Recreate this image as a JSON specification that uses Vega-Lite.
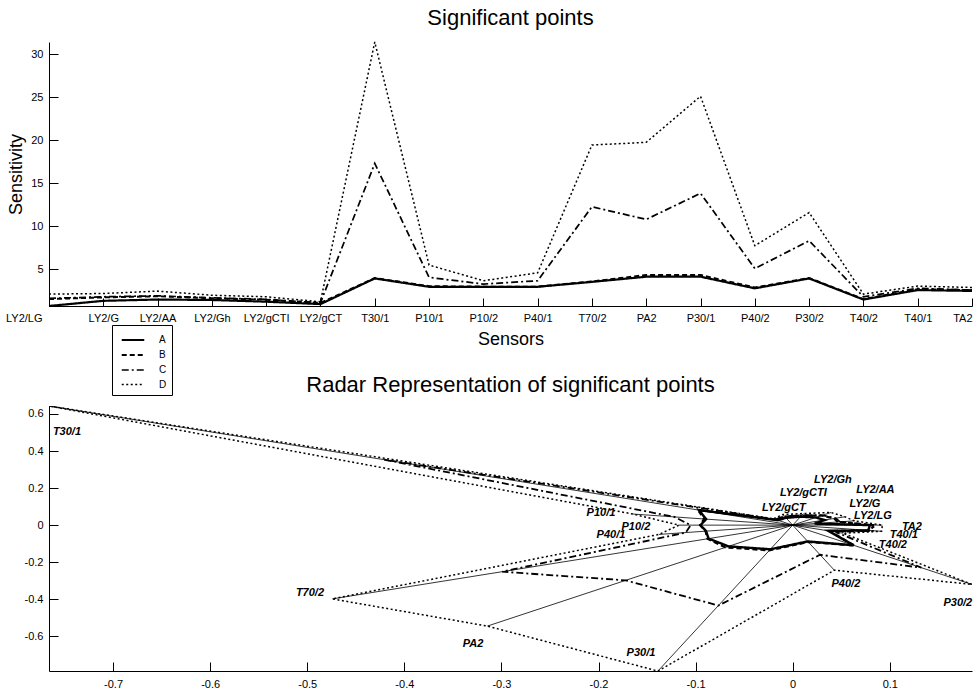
{
  "$schema": "https://vega.github.io/schema/vega-lite/v6.json",
  "background": "white",
  "padding": {"left": 5, "top": 7, "right": 0, "bottom": 0},
  "bounds": "flush",
  "spacing": 100,
  "resolve": {"scale": {"strokeDash": "independent", "strokeWidth": "independent"}},
  "datasets": {
    "sens": [
      {"sensor": "LY2/LG", "k": 0, "series": "A", "value": 0.75},
      {"sensor": "LY2/G", "k": 1, "series": "A", "value": 1.35},
      {"sensor": "LY2/AA", "k": 2, "series": "A", "value": 1.5},
      {"sensor": "LY2/Gh", "k": 3, "series": "A", "value": 1.45},
      {"sensor": "LY2/gCTI", "k": 4, "series": "A", "value": 1.25},
      {"sensor": "LY2/gCT", "k": 5, "series": "A", "value": 0.97},
      {"sensor": "T30/1", "k": 6, "series": "A", "value": 3.95},
      {"sensor": "P10/1", "k": 7, "series": "A", "value": 2.98},
      {"sensor": "P10/2", "k": 8, "series": "A", "value": 2.98},
      {"sensor": "P40/1", "k": 9, "series": "A", "value": 2.98},
      {"sensor": "T70/2", "k": 10, "series": "A", "value": 3.55},
      {"sensor": "PA2", "k": 11, "series": "A", "value": 4.15},
      {"sensor": "P30/1", "k": 12, "series": "A", "value": 4.15},
      {"sensor": "P40/2", "k": 13, "series": "A", "value": 2.8},
      {"sensor": "P30/2", "k": 14, "series": "A", "value": 3.95},
      {"sensor": "T40/2", "k": 15, "series": "A", "value": 1.5},
      {"sensor": "T40/1", "k": 16, "series": "A", "value": 2.6},
      {"sensor": "TA2", "k": 17, "series": "A", "value": 2.5},
      {"sensor": "LY2/LG", "k": 0, "series": "B", "value": 1.55},
      {"sensor": "LY2/G", "k": 1, "series": "B", "value": 1.75},
      {"sensor": "LY2/AA", "k": 2, "series": "B", "value": 1.88},
      {"sensor": "LY2/Gh", "k": 3, "series": "B", "value": 1.65},
      {"sensor": "LY2/gCTI", "k": 4, "series": "B", "value": 1.48},
      {"sensor": "LY2/gCT", "k": 5, "series": "B", "value": 1.1},
      {"sensor": "T30/1", "k": 6, "series": "B", "value": 4.0},
      {"sensor": "P10/1", "k": 7, "series": "B", "value": 3.05},
      {"sensor": "P10/2", "k": 8, "series": "B", "value": 3.0},
      {"sensor": "P40/1", "k": 9, "series": "B", "value": 3.0},
      {"sensor": "T70/2", "k": 10, "series": "B", "value": 3.6},
      {"sensor": "PA2", "k": 11, "series": "B", "value": 4.35},
      {"sensor": "P30/1", "k": 12, "series": "B", "value": 4.35},
      {"sensor": "P40/2", "k": 13, "series": "B", "value": 2.9},
      {"sensor": "P30/2", "k": 14, "series": "B", "value": 4.0},
      {"sensor": "T40/2", "k": 15, "series": "B", "value": 1.55},
      {"sensor": "T40/1", "k": 16, "series": "B", "value": 2.7},
      {"sensor": "TA2", "k": 17, "series": "B", "value": 2.6},
      {"sensor": "LY2/LG", "k": 0, "series": "C", "value": 1.63},
      {"sensor": "LY2/G", "k": 1, "series": "C", "value": 1.82},
      {"sensor": "LY2/AA", "k": 2, "series": "C", "value": 1.93},
      {"sensor": "LY2/Gh", "k": 3, "series": "C", "value": 1.7},
      {"sensor": "LY2/gCTI", "k": 4, "series": "C", "value": 1.52},
      {"sensor": "LY2/gCT", "k": 5, "series": "C", "value": 1.12},
      {"sensor": "T30/1", "k": 6, "series": "C", "value": 17.3},
      {"sensor": "P10/1", "k": 7, "series": "C", "value": 4.07},
      {"sensor": "P10/2", "k": 8, "series": "C", "value": 3.3},
      {"sensor": "P40/1", "k": 9, "series": "C", "value": 3.68},
      {"sensor": "T70/2", "k": 10, "series": "C", "value": 12.27},
      {"sensor": "PA2", "k": 11, "series": "C", "value": 10.8},
      {"sensor": "P30/1", "k": 12, "series": "C", "value": 13.83},
      {"sensor": "P40/2", "k": 13, "series": "C", "value": 5.1},
      {"sensor": "P30/2", "k": 14, "series": "C", "value": 8.32},
      {"sensor": "T40/2", "k": 15, "series": "C", "value": 1.82},
      {"sensor": "T40/1", "k": 16, "series": "C", "value": 2.8},
      {"sensor": "TA2", "k": 17, "series": "C", "value": 2.6},
      {"sensor": "LY2/LG", "k": 0, "series": "D", "value": 2.13},
      {"sensor": "LY2/G", "k": 1, "series": "D", "value": 2.2},
      {"sensor": "LY2/AA", "k": 2, "series": "D", "value": 2.48},
      {"sensor": "LY2/Gh", "k": 3, "series": "D", "value": 2.0},
      {"sensor": "LY2/gCTI", "k": 4, "series": "D", "value": 1.82},
      {"sensor": "LY2/gCT", "k": 5, "series": "D", "value": 1.24},
      {"sensor": "T30/1", "k": 6, "series": "D", "value": 31.4},
      {"sensor": "P10/1", "k": 7, "series": "D", "value": 5.5},
      {"sensor": "P10/2", "k": 8, "series": "D", "value": 3.68},
      {"sensor": "P40/1", "k": 9, "series": "D", "value": 4.6},
      {"sensor": "T70/2", "k": 10, "series": "D", "value": 19.44},
      {"sensor": "PA2", "k": 11, "series": "D", "value": 19.75},
      {"sensor": "P30/1", "k": 12, "series": "D", "value": 25.1},
      {"sensor": "P40/2", "k": 13, "series": "D", "value": 7.75},
      {"sensor": "P30/2", "k": 14, "series": "D", "value": 11.6},
      {"sensor": "T40/2", "k": 15, "series": "D", "value": 2.13},
      {"sensor": "T40/1", "k": 16, "series": "D", "value": 3.06},
      {"sensor": "TA2", "k": 17, "series": "D", "value": 2.9}
    ],
    "radar": [
      {"series": "A", "k": 0, "x": 0.0225, "y": 0.0082},
      {"series": "A", "k": 1, "x": 0.0329, "y": 0.0276},
      {"series": "A", "k": 2, "x": 0.0239, "y": 0.0414},
      {"series": "A", "k": 3, "x": 0.008, "y": 0.0455},
      {"series": "A", "k": 4, "x": -0.0069, "y": 0.0392},
      {"series": "A", "k": 5, "x": -0.0154, "y": 0.0268},
      {"series": "A", "k": 6, "x": -0.0964, "y": 0.0809},
      {"series": "A", "k": 7, "x": -0.0892, "y": 0.0325},
      {"series": "A", "k": 8, "x": -0.0949, "y": 0},
      {"series": "A", "k": 9, "x": -0.0892, "y": -0.0325},
      {"series": "A", "k": 10, "x": -0.0866, "y": -0.0727},
      {"series": "A", "k": 11, "x": -0.0661, "y": -0.1145},
      {"series": "A", "k": 12, "x": -0.023, "y": -0.1302},
      {"series": "A", "k": 13, "x": 0.0155, "y": -0.0878},
      {"series": "A", "k": 14, "x": 0.0629, "y": -0.1089},
      {"series": "A", "k": 15, "x": 0.0366, "y": -0.0307},
      {"series": "A", "k": 16, "x": 0.0778, "y": -0.0283},
      {"series": "A", "k": 17, "x": 0.0796, "y": 0},
      {"series": "A", "k": 18, "x": 0.0225, "y": 0.0082},
      {"series": "B", "k": 0, "x": 0.0464, "y": 0.0169},
      {"series": "B", "k": 1, "x": 0.0427, "y": 0.0358},
      {"series": "B", "k": 2, "x": 0.0299, "y": 0.0519},
      {"series": "B", "k": 3, "x": 0.0091, "y": 0.0518},
      {"series": "B", "k": 4, "x": -0.0082, "y": 0.0464},
      {"series": "B", "k": 5, "x": -0.0175, "y": 0.0303},
      {"series": "B", "k": 6, "x": -0.0976, "y": 0.0819},
      {"series": "B", "k": 7, "x": -0.0913, "y": 0.0332},
      {"series": "B", "k": 8, "x": -0.0955, "y": 0},
      {"series": "B", "k": 9, "x": -0.0898, "y": -0.0327},
      {"series": "B", "k": 10, "x": -0.0878, "y": -0.0737},
      {"series": "B", "k": 11, "x": -0.0693, "y": -0.12},
      {"series": "B", "k": 12, "x": -0.0241, "y": -0.1364},
      {"series": "B", "k": 13, "x": 0.016, "y": -0.091},
      {"series": "B", "k": 14, "x": 0.0637, "y": -0.1103},
      {"series": "B", "k": 15, "x": 0.0378, "y": -0.0317},
      {"series": "B", "k": 16, "x": 0.0808, "y": -0.0294},
      {"series": "B", "k": 17, "x": 0.0828, "y": 0},
      {"series": "B", "k": 18, "x": 0.0464, "y": 0.0169},
      {"series": "C", "k": 0, "x": 0.0488, "y": 0.0178},
      {"series": "C", "k": 1, "x": 0.0444, "y": 0.0373},
      {"series": "C", "k": 2, "x": 0.0307, "y": 0.0532},
      {"series": "C", "k": 3, "x": 0.0094, "y": 0.0533},
      {"series": "C", "k": 4, "x": -0.0084, "y": 0.0477},
      {"series": "C", "k": 5, "x": -0.0178, "y": 0.0309},
      {"series": "C", "k": 6, "x": -0.422, "y": 0.3542},
      {"series": "C", "k": 7, "x": -0.1218, "y": 0.0443},
      {"series": "C", "k": 8, "x": -0.1051, "y": 0},
      {"series": "C", "k": 9, "x": -0.1101, "y": -0.0401},
      {"series": "C", "k": 10, "x": -0.2993, "y": -0.2512},
      {"series": "C", "k": 11, "x": -0.172, "y": -0.2979},
      {"series": "C", "k": 12, "x": -0.0765, "y": -0.4338},
      {"series": "C", "k": 13, "x": 0.0282, "y": -0.16},
      {"series": "C", "k": 14, "x": 0.1325, "y": -0.2295},
      {"series": "C", "k": 15, "x": 0.0444, "y": -0.0373},
      {"series": "C", "k": 16, "x": 0.0838, "y": -0.0305},
      {"series": "C", "k": 17, "x": 0.0828, "y": 0},
      {"series": "C", "k": 18, "x": 0.0488, "y": 0.0178},
      {"series": "D", "k": 0, "x": 0.0637, "y": 0.0232},
      {"series": "D", "k": 1, "x": 0.0537, "y": 0.045},
      {"series": "D", "k": 2, "x": 0.0395, "y": 0.0684},
      {"series": "D", "k": 3, "x": 0.0111, "y": 0.0627},
      {"series": "D", "k": 4, "x": -0.0101, "y": 0.0571},
      {"series": "D", "k": 5, "x": -0.0198, "y": 0.0342},
      {"series": "D", "k": 6, "x": -0.766, "y": 0.6428},
      {"series": "D", "k": 7, "x": -0.1646, "y": 0.0599},
      {"series": "D", "k": 8, "x": -0.1172, "y": 0},
      {"series": "D", "k": 9, "x": -0.1377, "y": -0.0501},
      {"series": "D", "k": 10, "x": -0.4742, "y": -0.398},
      {"series": "D", "k": 11, "x": -0.3145, "y": -0.5447},
      {"series": "D", "k": 12, "x": -0.1388, "y": -0.7872},
      {"series": "D", "k": 13, "x": 0.0429, "y": -0.2431},
      {"series": "D", "k": 14, "x": 0.1847, "y": -0.3199},
      {"series": "D", "k": 15, "x": 0.052, "y": -0.0436},
      {"series": "D", "k": 16, "x": 0.0916, "y": -0.0333},
      {"series": "D", "k": 17, "x": 0.0924, "y": 0},
      {"series": "D", "k": 18, "x": 0.0637, "y": 0.0232}
    ],
    "labels": [
      {"label": "T30/1", "x": -0.7475, "y": 0.502},
      {"label": "P10/1", "x": -0.1975, "y": 0.0648},
      {"label": "P10/2", "x": -0.1615, "y": -0.0108},
      {"label": "P40/1", "x": -0.1872, "y": -0.054},
      {"label": "T70/2", "x": -0.4972, "y": -0.367},
      {"label": "PA2", "x": -0.3293, "y": -0.642},
      {"label": "P30/1", "x": -0.1563, "y": -0.691},
      {"label": "P40/2", "x": 0.0548, "y": -0.318},
      {"label": "P30/2", "x": 0.1701, "y": -0.421},
      {"label": "T40/2", "x": 0.1032, "y": -0.108},
      {"label": "T40/1", "x": 0.1145, "y": -0.054},
      {"label": "TA2", "x": 0.1228, "y": -0.0108},
      {"label": "LY2/LG", "x": 0.0826, "y": 0.0486},
      {"label": "LY2/G", "x": 0.0744, "y": 0.1133},
      {"label": "LY2/AA", "x": 0.0852, "y": 0.1889},
      {"label": "LY2/Gh", "x": 0.0414, "y": 0.2428},
      {"label": "LY2/gCTI", "x": 0.011, "y": 0.1727},
      {"label": "LY2/gCT", "x": -0.0091, "y": 0.0917}
    ]
  },
  "vconcat": [
    {
      "title": {"text": "Significant points"},
      "width": 923,
      "height": 264,
      "data": {"name": "sens"},
      "mark": {"type": "line", "color": "black"},
      "encoding": {
        "x": {
          "field": "sensor", "type": "ordinal",
          "scale": {"type": "point", "padding": 0, "domain": ["LY2/LG","LY2/G","LY2/AA","LY2/Gh","LY2/gCTI","LY2/gCT","T30/1","P10/1","P10/2","P40/1","T70/2","PA2","P30/1","P40/2","P30/2","T40/2","T40/1","TA2"]},
          "axis": {
            "title": "Sensors", "labelAngle": 0, "tickSize": -8, "labelPadding": 14, "titlePadding": 7, "labelOverlap": false,
            "labelAlign": {"condition": {"test": "datum.value == 'LY2/LG' || datum.value == 'TA2'", "value": "right"}, "value": "center"},
            "labelOffset": {"condition": {"test": "datum.value == 'LY2/LG'", "value": -7}, "value": 0}
          }
        },
        "y": {
          "field": "value", "type": "quantitative",
          "scale": {"domain": [0.75, 31.4], "nice": false, "zero": false},
          "axis": {"title": "Sensitivity", "values": [5, 10, 15, 20, 25, 30], "tickSize": -9, "labelPadding": 15, "titlePadding": 5}
        },
        "order": {"field": "k", "type": "quantitative"},
        "strokeDash": {
          "field": "series", "type": "nominal",
          "scale": {"domain": ["A", "B", "C", "D"], "range": [[1, 0], [5, 3], [7, 3, 2, 3], [2, 2.5]]},
          "legend": {"orient": "none", "legendX": 63, "legendY": 283, "title": null}
        },
        "strokeWidth": {
          "field": "series", "type": "nominal",
          "scale": {"domain": ["A", "B", "C", "D"], "range": [2.2, 1.5, 1.5, 1.6]},
          "legend": null
        }
      }
    },
    {
      "title": {"text": "Radar Representation of significant points"},
      "width": 923,
      "height": 265,
      "layer": [
        {
          "data": {"name": "radar"},
          "transform": [{"filter": "datum.series == 'D' && datum.k < 18"}],
          "mark": {"type": "rule", "color": "black", "strokeWidth": 0.8, "clip": true},
          "encoding": {
            "x": {"field": "x", "type": "quantitative", "scale": {"domain": [-0.766, 0.1847], "nice": false, "zero": false},
              "axis": {"title": null, "values": [-0.7, -0.6, -0.5, -0.4, -0.3, -0.2, -0.1, 0, 0.1], "tickSize": -9, "labelPadding": 16, "labelExpr": "datum.value == 0 ? '0' : (datum.value < 0 ? '-' : '') + format(abs(datum.value), '.1f')"}},
            "y": {"field": "y", "type": "quantitative", "scale": {"domain": [-0.787, 0.6428], "nice": false, "zero": false},
              "axis": {"title": null, "values": [-0.6, -0.4, -0.2, 0, 0.2, 0.4, 0.6], "tickSize": -9, "labelPadding": 15, "labelExpr": "datum.value == 0 ? '0' : (datum.value < 0 ? '-' : '') + format(abs(datum.value), '.1f')"}},
            "x2": {"datum": 0},
            "y2": {"datum": 0}
          }
        },
        {
          "data": {"name": "radar"},
          "mark": {"type": "line", "color": "black", "clip": true},
          "encoding": {
            "x": {"field": "x", "type": "quantitative", "scale": {"domain": [-0.766, 0.1847], "nice": false, "zero": false},
              "axis": {"title": null, "values": [-0.7, -0.6, -0.5, -0.4, -0.3, -0.2, -0.1, 0, 0.1], "tickSize": -9, "labelPadding": 16, "labelExpr": "datum.value == 0 ? '0' : (datum.value < 0 ? '-' : '') + format(abs(datum.value), '.1f')"}},
            "y": {"field": "y", "type": "quantitative", "scale": {"domain": [-0.787, 0.6428], "nice": false, "zero": false},
              "axis": {"title": null, "values": [-0.6, -0.4, -0.2, 0, 0.2, 0.4, 0.6], "tickSize": -9, "labelPadding": 15, "labelExpr": "datum.value == 0 ? '0' : (datum.value < 0 ? '-' : '') + format(abs(datum.value), '.1f')"}},
            "order": {"field": "k", "type": "quantitative"},
            "strokeDash": {
              "field": "series", "type": "nominal",
              "scale": {"domain": ["A", "B", "C", "D"], "range": [[1, 0], [5, 3], [7, 3, 2, 3], [2, 2.5]]},
              "legend": null
            },
            "strokeWidth": {
              "field": "series", "type": "nominal",
              "scale": {"domain": ["A", "B", "C", "D"], "range": [2.4, 1.5, 1.7, 1.7]},
              "legend": null
            }
          }
        },
        {
          "data": {"name": "labels"},
          "mark": {"type": "text", "color": "black", "font": "Liberation Sans", "fontSize": 11, "fontWeight": "bold", "fontStyle": "italic", "align": "center", "baseline": "middle"},
          "encoding": {
            "x": {"field": "x", "type": "quantitative", "scale": {"domain": [-0.766, 0.1847], "nice": false, "zero": false},
              "axis": {"title": null, "values": [-0.7, -0.6, -0.5, -0.4, -0.3, -0.2, -0.1, 0, 0.1], "tickSize": -9, "labelPadding": 16, "labelExpr": "datum.value == 0 ? '0' : (datum.value < 0 ? '-' : '') + format(abs(datum.value), '.1f')"}},
            "y": {"field": "y", "type": "quantitative", "scale": {"domain": [-0.787, 0.6428], "nice": false, "zero": false},
              "axis": {"title": null, "values": [-0.6, -0.4, -0.2, 0, 0.2, 0.4, 0.6], "tickSize": -9, "labelPadding": 15, "labelExpr": "datum.value == 0 ? '0' : (datum.value < 0 ? '-' : '') + format(abs(datum.value), '.1f')"}},
            "text": {"field": "label", "type": "nominal"}
          }
        }
      ]
    }
  ],
  "config": {
    "view": {"stroke": null},
    "font": "Liberation Sans",
    "axis": {
      "grid": false, "domainColor": "black", "tickColor": "black", "labelColor": "black", "titleColor": "black",
      "labelFont": "Liberation Sans", "titleFont": "Liberation Sans", "labelFontSize": 11, "titleFontSize": 18,
      "titleFontWeight": "normal", "domainWidth": 1, "tickWidth": 1
    },
    "title": {"font": "Liberation Sans", "fontSize": 22, "fontWeight": "normal", "color": "black", "baseline": "alphabetic", "offset": 9},
    "legend": {
      "symbolType": "M-1.3,0H1.3", "symbolStrokeColor": "black", "symbolStrokeWidth": 1.5, "symbolSize": 300, "symbolOffset": 6,
      "labelFont": "Liberation Sans", "labelFontSize": 10, "labelColor": "black", "labelOffset": 16,
      "strokeColor": "black", "fillColor": "white", "padding": 5, "cornerRadius": 0, "rowPadding": 0
    }
  }
}
